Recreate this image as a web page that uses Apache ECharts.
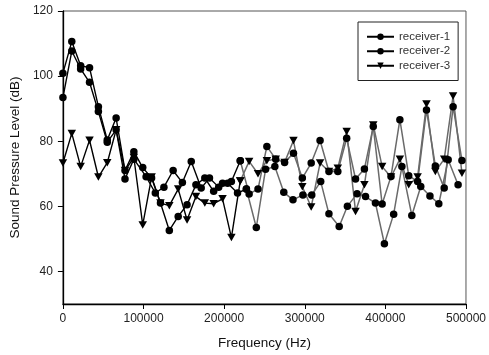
<!DOCTYPE html>
<html><head><meta charset="utf-8">
<script src="https://cdn.jsdelivr.net/npm/echarts@6/dist/echarts.min.js"></script>
<style>html,body{margin:0;padding:0;background:#fff}#c{width:489px;height:355px}</style>
</head><body><div id="c"></div>
<script>
// Frequency grid (Hz) shared by receiver-1 and receiver-3
const freqGrid = [0,11000,22000,33000,44000,55000,66000,77000,88000,99000,110000,121000,132000,143000,154000,165000,176000,187000,198000,209000,220000,231000,242000,253000,264000,275000,286000,297000,308000,319000,330000,341000,352000,363000,374000,385000,396000,407000,418000,429000,440000,451000,462000,473000,484000,495000];
// Frequencies (Hz) of receiver-2 points
const freqR2 = [0,11000,22000,33000,44000,55000,66000,77000,88000,103200,114600,125300,136700,148200,159200,171500,181800,193200,204300,216600,227600,239900,251400,262900,274000,285400,297700,308700,319800,330000,342700,352900,364900,375400,387700,398800,410300,420500,432800,443900,455300,466300,477900,490200];
// Sound pressure level (dB)
const receiver1 = [100.9,110.6,103.2,102.6,90.6,80.4,87.1,71.0,76.8,71.9,68.7,61.0,52.6,56.9,60.5,66.6,68.7,64.6,67.1,67.6,74.0,63.8,65.3,78.4,74.5,73.5,76.3,68.7,73.3,80.2,70.7,70.7,80.9,68.4,71.5,84.5,60.7,69.2,86.6,69.4,67.6,89.6,72.4,65.6,90.6,74.1];
const receiver2 = [93.4,107.7,102.2,98.1,89.1,79.7,83.5,68.4,74.5,69.1,64.1,65.9,71.0,67.3,73.8,65.6,68.7,65.9,67.1,64.1,65.3,53.5,71.4,72.2,64.3,62.0,63.5,63.5,67.6,57.7,53.8,60.0,63.9,63.0,61.0,48.5,57.6,72.2,57.2,66.1,63.2,60.8,74.3,66.6];
const receiver3 = [73.3,82.4,72.2,80.3,69.0,73.4,83.5,71,75,54.3,69,61,60.2,65.3,55.8,63.0,61.0,60.8,62.3,50.4,67.8,73.8,70.0,74.0,74.5,73.5,80.2,66,59.8,73.3,70.7,71.7,83.0,58.4,66.6,85.0,72.2,69,74.5,66.6,69.0,91.4,70.7,74.5,93.9,70.2];
const seriesNames = ['receiver-1','receiver-2','receiver-3'];
const yTicks = [40,60,80,100,120];

const FONT = 'Liberation Sans, Arial, Helvetica, sans-serif';
const TRI_DOWN = 'path://M0,0 L10,0 L5,9 Z';
const defs = [
  {name: seriesNames[0], f: freqGrid, v: receiver1, symbol: 'circle', size: 7.5},
  {name: seriesNames[1], f: freqR2, v: receiver2, symbol: 'circle', size: 7.5},
  {name: seriesNames[2], f: freqGrid, v: receiver3, symbol: TRI_DOWN, size: [8.5, 7.5]}
];
const SPLIT = 20;
function pairs(f, v, a, b) {
  const out = [];
  for (let i = a; i <= b && i < v.length; i++) out.push([f[i], v[i]]);
  return out;
}
const series = [];
defs.forEach(d => {
  series.push({
    name: d.name, type: 'line', data: pairs(d.f, d.v, 0, SPLIT),
    symbol: d.symbol, symbolSize: d.size, showAllSymbol: true,
    itemStyle: {color: '#000'}, lineStyle: {color: '#000', width: 1.4},
    emphasis: {disabled: true}, z: 3
  });
  series.push({
    name: d.name, type: 'line', data: pairs(d.f, d.v, SPLIT, d.v.length - 1),
    symbol: d.symbol, symbolSize: d.size, showAllSymbol: true,
    itemStyle: {color: '#000'}, lineStyle: {color: '#6a6a6a', width: 1.5},
    emphasis: {disabled: true}, z: 2
  });
});

const chart = echarts.init(document.getElementById('c'), null, {renderer: 'canvas'});
chart.setOption({
  animation: false,
  backgroundColor: '#fff',
  grid: {left: 58.7, right: 23, top: 11, bottom: 50.7, show: true, borderColor: '#555', borderWidth: 1, backgroundColor: 'transparent'},
  legend: {
    data: seriesNames, orient: 'vertical', left: 358, top: 22,
    borderColor: '#222', borderWidth: 1, padding: [8, 8, 8, 8],
    itemWidth: 27, itemHeight: 8, itemGap: 1, selectedMode: false,
    textStyle: {fontFamily: FONT, fontSize: 11.5, color: '#333', lineHeight: 13.5}
  },
  xAxis: {
    type: 'value', min: 0, max: 500000, interval: 100000,
    axisLine: {lineStyle: {color: '#000', width: 1.3}},
    axisTick: {show: true, inside: false, length: 5, lineStyle: {color: '#000'}},
    axisLabel: {fontFamily: FONT, fontSize: 12, color: '#222', margin: 9, formatter: v => String(v)},
    splitLine: {show: false},
    name: 'Frequency (Hz)', nameLocation: 'middle', nameGap: 32,
    nameTextStyle: {fontFamily: FONT, fontSize: 13.5, color: '#111'}
  },
  yAxis: {
    type: 'value', min: 30, max: 120,
    axisLine: {show: true, lineStyle: {color: '#000', width: 1.3}},
    axisTick: {show: true, inside: false, length: 5, customValues: yTicks, lineStyle: {color: '#000'}},
    axisLabel: {fontFamily: FONT, fontSize: 12, color: '#222', margin: 10, customValues: yTicks},
    splitLine: {show: false},
    name: 'Sound Pressure Level (dB)', nameLocation: 'middle', nameGap: 40, nameRotate: 90,
    nameTextStyle: {fontFamily: FONT, fontSize: 13.5, color: '#111'}
  },
  series: series
});
</script>
</body></html>
